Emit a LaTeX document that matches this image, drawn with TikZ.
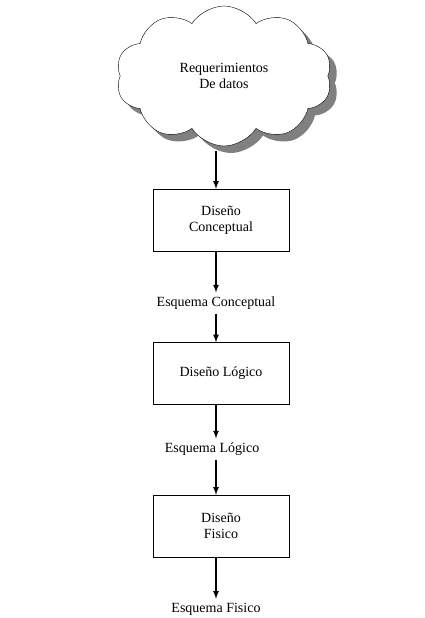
\documentclass[tikz,border=0pt]{standalone}
\usepackage{fontspec}
\setmainfont{Liberation Serif}
\usetikzlibrary{shapes.symbols,shadows}
\begin{document}
\begin{tikzpicture}[x=1pt,y=-1pt,
  nube/.style={draw, cloud, cloud puffs=10, cloud puff arc=115, aspect=1.55, fill=white, minimum width=216pt, minimum height=140pt, drop shadow={shadow xshift=7pt, shadow yshift=-7pt, fill=black!50, opacity=1}, align=center},
  diseno/.style={draw, rectangle, align=center, minimum width=136pt, minimum height=62pt},
  esquema/.style={inner sep=4pt},
  flecha/.style={->, >=latex, line width=1.6pt}]
\useasboundingbox (0,0) rectangle (425,618);
\fontsize{14}{16}\selectfont
\node[nube] (c) at (224,76) {Requerimientos\\De datos};
\coordinate (c0) at (216,151);
\node[diseno] (b1) at (221,220) {Diseño\\Conceptual};
\node[esquema] (e1) at (216,303) {Esquema Conceptual};
\node[diseno] (b2) at (221,373.5) {Diseño Lógico};
\node[esquema] (e2) at (212,449) {Esquema Lógico};
\node[diseno] (b3) at (221,526) {Diseño\\Fisico};
\node[esquema] (e3) at (216,609) {Esquema Fisico};
\draw[flecha] (c0) -- (b1.north -| e1);
\draw[flecha] (b1.south -| e1) -- (e1);
\draw[flecha] (e1) -- (b2.north -| e1);
\draw[flecha] (b2.south -| e1) -- (e2.north -| e1);
\draw[flecha] (e2.south -| e1) -- (b3.north -| e1);
\draw[flecha] (b3.south -| e3) -- (e3);
\end{tikzpicture}
\end{document}
